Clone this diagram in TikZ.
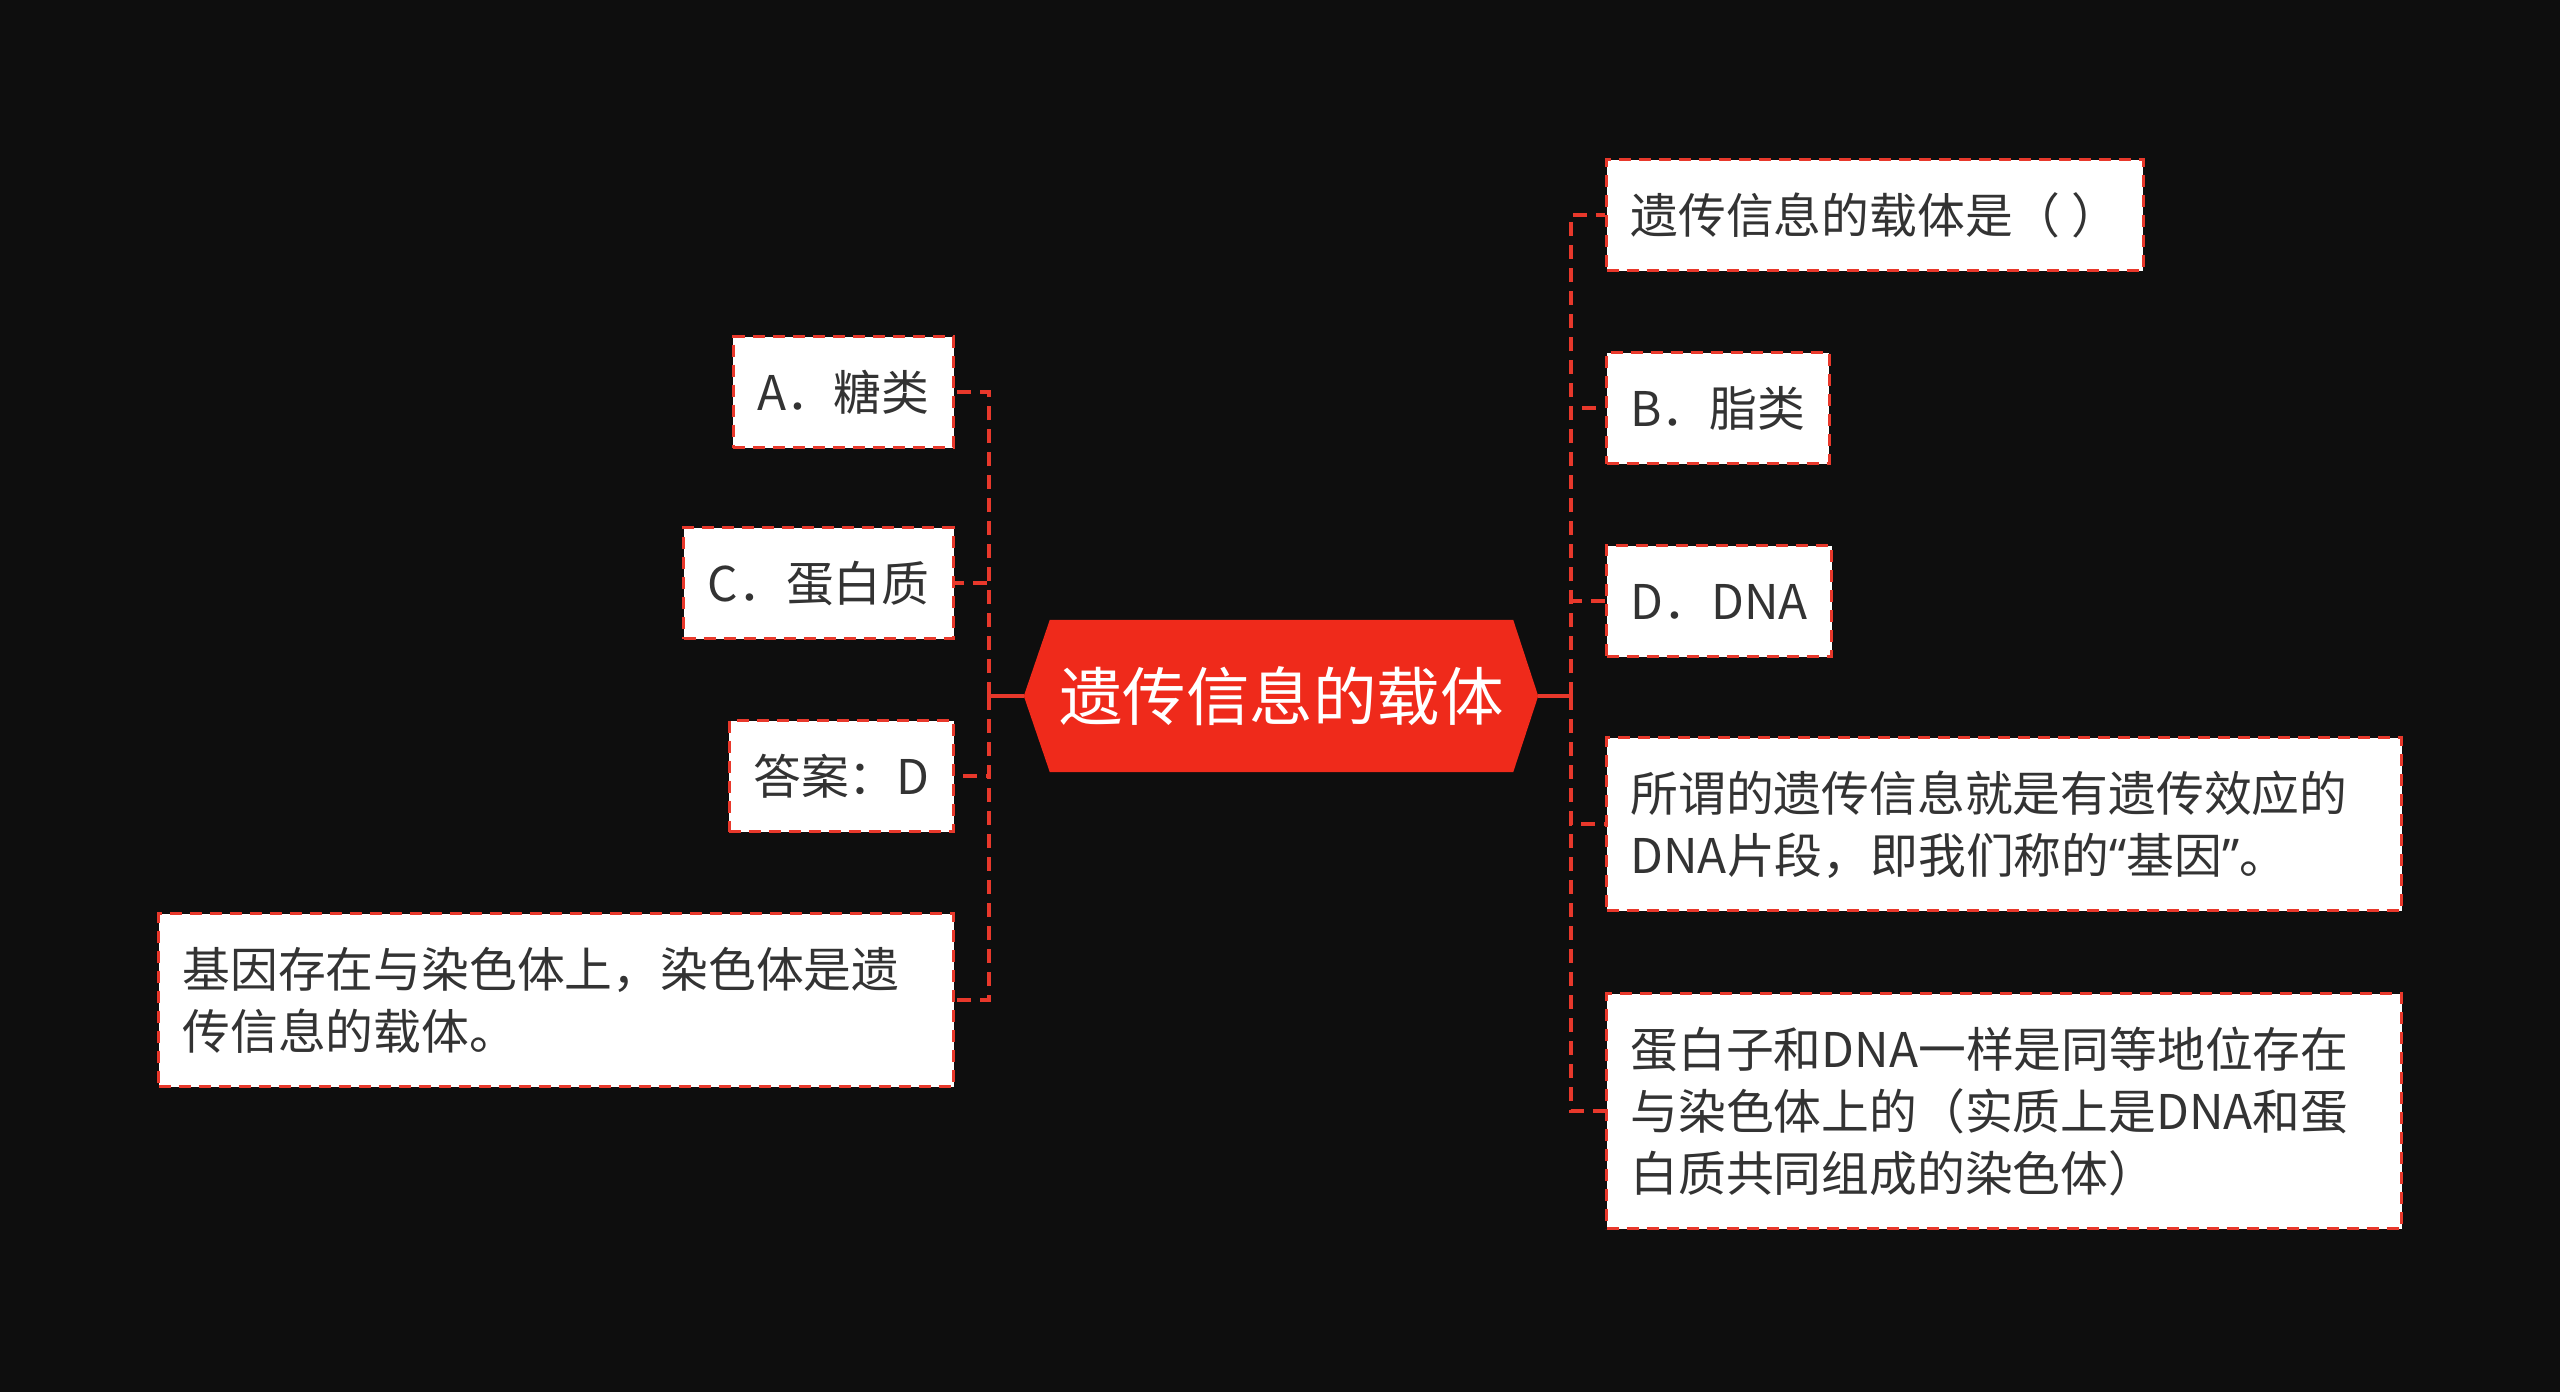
\documentclass[tikz,border=0pt]{standalone}
\usepackage{fontspec}
\setmainfont{Noto Sans CJK SC}
\newfontfamily\latinfont{Noto Sans}
\usetikzlibrary{positioning, calc, backgrounds}

\definecolor{bgblack}{HTML}{0E0E0E}
\definecolor{mapred}{HTML}{E8382B}
\definecolor{rootred}{HTML}{EF2A1B}
\definecolor{textgray}{HTML}{333333}

\newcommand\boxstrut{\rule[-13pt]{0pt}{62pt}}

\begin{document}
\begin{tikzpicture}[x=1pt, y=-1pt,
  leaf/.style={draw=mapred, line width=3pt, dash pattern=on 12pt off 8pt,
    fill=white, text=textgray, font=\fontsize{47.8pt}{62pt}\selectfont,
    inner xsep=24pt, inner ysep=24.5pt,
    execute at begin node=\boxstrut, execute at end node=\boxstrut},
  wideleaf/.style={leaf, text width=747pt, align=left},
  root/.style={text=white, font=\fontsize{63.5pt}{76pt}\selectfont,
    minimum width=463pt, minimum height=152pt, inner sep=0pt},
  link/.style={mapred, line width=3.5pt, dash pattern=on 14pt off 9pt},
  stub/.style={mapred, line width=3.5pt}]

% --- Background ---
\begin{scope}[on background layer]
  \fill[bgblack] (0,0) rectangle (2560,1392);
\end{scope}
\useasboundingbox (0,0) rectangle (2560,1392);

% --- Central topic ---
\node[root] (root) at (1281.5,696) {遗传信息的载体};
\coordinate (tipL) at ($(root.west)+(-26,0)$);
\coordinate (tipR) at ($(root.east)+(25,0)$);
\begin{scope}[on background layer]
  \fill[rootred] (tipL) -- (root.north west) -- (root.north east) --
    (tipR) -- (root.south east) -- (root.south west) -- cycle;
\end{scope}

% --- Junctions ---
\coordinate (jL) at (989,696);
\coordinate (jR) at (1571,696);

% --- Right branches ---
\node[leaf, anchor=west] (quest) at (1605,215) {遗传信息的载体是（ ）};
\node[leaf, anchor=west] (optB) at (1605,408) {B．脂类};
\node[leaf, anchor=west] (optD) at (1605,601) {D．DNA};
\node[wideleaf, anchor=west] (expl) at (1605,824)
  {所谓的遗传信息就是有遗传效应的\\DNA片段，即我们称的{\latinfont “}基因{\latinfont ”}。};
\node[wideleaf, anchor=west] (note) at (1605,1111)
  {蛋白子和DNA一样是同等地位存在\\与染色体上的（实质上是DNA和蛋\\白质共同组成的染色体）};

% --- Left branches ---
\node[leaf, anchor=east] (optA) at (955,392) {A．糖类};
\node[leaf, anchor=east] (optC) at (955,583) {C．蛋白质};
\node[leaf, anchor=east] (answer) at (955,776) {答案：D};
\node[wideleaf, anchor=east] (gene) at (955,1000)
  {基因存在与染色体上，染色体是遗\\传信息的载体。};

% --- Connectors ---
\draw[stub] (tipR) -- (jR);
\foreach \n in {quest, optB, optD, expl, note} {
  \draw[link] (jR) |- (\n.west);
}
\draw[stub] (tipL) -- (jL);
\foreach \n in {optA, optC, answer, gene} {
  \draw[link] (jL) |- (\n.east);
}

\end{tikzpicture}
\end{document}
